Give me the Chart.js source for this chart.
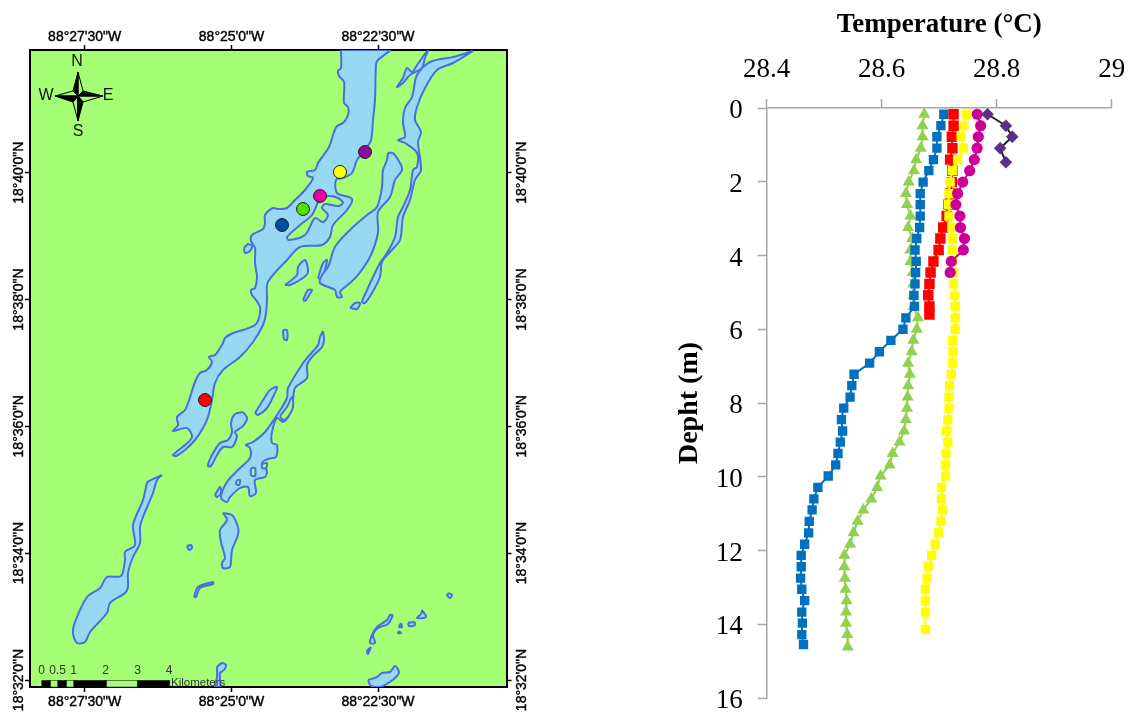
<!DOCTYPE html>
<html>
<head>
<meta charset="utf-8">
<title>Temperature profile</title>
<script src="https://cdn.jsdelivr.net/npm/chart.js@4"></script>
<style>
  html, body { margin: 0; background: #fff; overflow: hidden; }
  canvas { position: absolute; top: 0; }
  #mapChart { left: 0; }
  #profileChart { left: 640px; }
</style>
</head>
<body>
<canvas id="mapChart" width="560" height="713"></canvas>
<canvas id="profileChart" width="489" height="713"></canvas>
<script>
// profile readings
const tempTicks = [28.4, 28.6, 28.8, 29];
const depthTicks = [0, 2, 4, 6, 8, 10, 12, 14, 16];
const depthPurple = [0.17, 0.48, 0.78, 1.09, 1.47];
const tempPurple = [28.784, 28.816, 28.827, 28.806, 28.816];
const depthMagenta = [0.17, 0.48, 0.78, 1.09, 1.40, 1.70, 2.01, 2.32, 2.62, 2.93, 3.24, 3.54, 3.85, 4.16, 4.46];
const tempMagenta = [28.766, 28.772, 28.768, 28.766, 28.761, 28.753, 28.741, 28.732, 28.729, 28.736, 28.737, 28.744, 28.742, 28.721, 28.719];
const depthRed = [0.17, 0.48, 0.78, 1.09, 1.40, 1.70, 2.01, 2.32, 2.62, 2.93, 3.24, 3.54, 3.85, 4.16, 4.46, 4.77, 5.08, 5.38, 5.60];
const tempRed = [28.725, 28.725, 28.722, 28.723, 28.719, 28.723, 28.722, 28.719, 28.716, 28.713, 28.707, 28.702, 28.699, 28.690, 28.685, 28.683, 28.681, 28.683, 28.683];
const depthYellow = [0.17, 0.48, 0.78, 1.09, 1.40, 1.70, 2.01, 2.32, 2.62, 2.93, 3.24, 3.54, 3.85, 4.16, 4.46, 4.77, 5.08, 5.38, 5.69, 6.00, 6.30, 6.61, 6.92, 7.22, 7.53, 7.84, 8.14, 8.45, 8.76, 9.06, 9.37, 9.68, 9.98, 10.29, 10.60, 10.90, 11.21, 11.52, 11.83, 12.13, 12.44, 12.75, 13.05, 13.36, 13.67, 14.14];
const tempYellow = [28.747, 28.743, 28.738, 28.742, 28.732, 28.723, 28.719, 28.717, 28.716, 28.717, 28.722, 28.723, 28.723, 28.723, 28.725, 28.725, 28.727, 28.728, 28.728, 28.728, 28.723, 28.724, 28.723, 28.721, 28.718, 28.717, 28.717, 28.715, 28.713, 28.715, 28.712, 28.711, 28.711, 28.704, 28.704, 28.706, 28.703, 28.699, 28.693, 28.687, 28.681, 28.679, 28.676, 28.676, 28.676, 28.676];
const depthBlue = [0.17, 0.48, 0.78, 1.09, 1.40, 1.70, 2.01, 2.32, 2.62, 2.93, 3.24, 3.54, 3.85, 4.16, 4.46, 4.77, 5.08, 5.38, 5.69, 6.00, 6.30, 6.61, 6.92, 7.22, 7.53, 7.84, 8.14, 8.45, 8.76, 9.06, 9.37, 9.68, 9.98, 10.29, 10.60, 10.90, 11.21, 11.52, 11.83, 12.13, 12.44, 12.75, 13.05, 13.36, 13.67, 13.97, 14.28, 14.55];
const tempBlue = [28.708, 28.703, 28.696, 28.696, 28.690, 28.682, 28.672, 28.667, 28.667, 28.667, 28.666, 28.661, 28.658, 28.660, 28.659, 28.658, 28.656, 28.657, 28.642, 28.637, 28.616, 28.596, 28.579, 28.552, 28.548, 28.545, 28.534, 28.530, 28.532, 28.528, 28.524, 28.520, 28.507, 28.489, 28.482, 28.479, 28.474, 28.473, 28.466, 28.460, 28.460, 28.459, 28.461, 28.466, 28.461, 28.462, 28.461, 28.464];
const depthGreen = [0.17, 0.48, 0.78, 1.09, 1.40, 1.70, 2.01, 2.32, 2.62, 2.93, 3.24, 3.54, 3.85, 4.16, 4.46, 4.77, 5.08, 5.38, 5.69, 6.00, 6.30, 6.61, 6.92, 7.22, 7.53, 7.84, 8.14, 8.45, 8.76, 9.06, 9.37, 9.68, 9.98, 10.29, 10.60, 10.90, 11.21, 11.52, 11.83, 12.13, 12.44, 12.75, 13.05, 13.36, 13.67, 13.97, 14.28, 14.62];
const tempGreen = [28.674, 28.671, 28.671, 28.668, 28.660, 28.656, 28.647, 28.642, 28.644, 28.650, 28.646, 28.653, 28.650, 28.650, 28.654, 28.655, 28.655, 28.655, 28.663, 28.661, 28.655, 28.652, 28.646, 28.649, 28.646, 28.645, 28.644, 28.642, 28.639, 28.631, 28.619, 28.614, 28.598, 28.592, 28.582, 28.568, 28.558, 28.551, 28.545, 28.535, 28.535, 28.536, 28.537, 28.539, 28.538, 28.538, 28.540, 28.541];

// map frame ticks, digitised in sheet units (origin top left of the frame)
const lonTicks = [54.7, 201.5, 348];
const lonLabels = ["88°27'30\"W", "88°25'0\"W", "88°22'30\"W"];
const latTicks = [122.7, 249.5, 376.3, 503.1, 630];
const latLabels = ["18°40'0\"N", "18°38'0\"N", "18°36'0\"N", "18°34'0\"N", "18°32'0\"N"];

// sampling stations on the map
const stationX = [335, 310, 290, 273, 252, 175];
const stationY = [102, 122, 146, 159, 175, 350];
const stationColors = ["#8a0a9a", "#ffff00", "#e6009e", "#55dd00", "#004da8", "#ff0000"];

// water bodies
const mainLake = [[311,0],[311,18],[308,21],[309,26],[314,32],[314,53],[318,57],[318,65],[313,73],[307,76],[304,82],[299,97],[288,113],[285,120],[277,122],[278,126],[283,128],[275,140],[265,150],[257,158],[248,159],[243,158],[235,165],[235,173],[233,179],[222,185],[221,191],[225,198],[225,213],[227,227],[225,238],[221,240],[222,245],[226,250],[230,257],[229,268],[225,275],[213,280],[203,283],[195,288],[193,293],[185,305],[179,307],[182,312],[177,320],[170,323],[165,332],[160,347],[155,360],[147,367],[148,375],[143,381],[157,378],[162,387],[155,395],[143,405],[146,406],[155,400],[165,390],[173,378],[178,367],[182,350],[185,333],[193,320],[210,307],[223,292],[233,275],[236,263],[237,250],[238,232],[257,210],[270,197],[292,195],[300,187],[303,175],[317,160],[322,149],[307,143],[306,130],[313,128],[322,123],[327,110],[335,100],[341,90],[343,70],[345,50],[346,15],[348,10],[357,3],[360,0]];
const longLake = [[358,103],[363,103],[370,113],[372,120],[365,130],[360,147],[348,162],[348,183],[340,207],[328,225],[320,233],[310,242],[312,247],[307,247],[305,240],[290,233],[292,225],[298,217],[305,197],[320,180],[337,165],[347,157],[352,137],[353,120],[357,110]];
const eastChannel = [[443,1],[423,7],[400,12],[387,25],[382,47],[375,58],[373,73],[375,87],[368,90],[375,93],[387,103],[387,117],[383,120],[380,140],[373,157],[368,167],[365,187],[357,203],[350,213],[343,227],[337,240],[332,252],[335,253],[342,243],[350,227],[352,212],[360,202],[370,190],[373,167],[380,150],[385,130],[391,120],[388,92],[391,82],[385,70],[387,57],[395,38],[407,20],[423,13]];
const northArm = [[397,1],[387,15],[382,22],[377,18],[373,28],[367,37],[373,33],[380,25],[392,18],[395,8],[398,1]];
const eastIsland = [[293,281],[294,290],[292,297],[282,307],[277,315],[277,328],[265,338],[263,350],[259,365],[253,372],[247,368],[242,382],[242,393],[247,395],[246,407],[238,409],[232,413],[237,421],[235,427],[225,430],[226,443],[220,446],[218,437],[210,438],[200,447],[197,452],[191,448],[197,432],[210,418],[220,408],[220,398],[216,395],[223,392],[235,382],[247,365],[257,348],[258,338],[273,313],[277,308],[288,295],[290,287]];
const ovalLake = [[213,362],[217,368],[213,376],[205,382],[207,386],[202,397],[193,397],[187,405],[181,416],[178,416],[181,407],[190,393],[198,390],[202,382],[201,373],[205,364]];
const southLake = [[132,425],[127,430],[123,443],[113,467],[110,477],[110,493],[103,507],[98,523],[98,537],[95,543],[80,553],[77,563],[60,582],[55,592],[47,593],[43,583],[45,572],[57,547],[70,538],[77,527],[91,526],[95,510],[95,502],[105,495],[103,475],[113,450],[117,433],[119,431]];
const midLake = [[193,463],[202,465],[208,477],[208,485],[202,500],[200,517],[193,518],[192,513],[195,508],[191,492],[190,480],[197,470]];
const bottomLake = [[338,630],[347,627],[352,623],[360,622],[365,616],[369,622],[367,626],[360,632],[350,637],[341,636]];
const smallWaters = [
  [[214,198],[218,194],[222,196],[220,201],[215,203]],
  [[253,160],[262,156],[262,160],[257,163]],
  [[255,235],[267,225],[268,217],[275,210],[278,222],[273,228],[260,235]],
  [[288,228],[293,213],[297,210],[295,220],[292,229]],
  [[273,250],[278,240],[282,240],[278,247],[275,251]],
  [[320,258],[325,253],[330,253],[327,259]],
  [[253,280],[257,280],[257,290],[254,289]],
  [[225,363],[235,347],[240,340],[247,337],[243,347],[237,358],[228,365]],
  [[185,445],[190,437],[191,443],[187,447]],
  [[164,547],[168,537],[183,532],[183,534],[170,538],[166,547]],
  [[157,496],[161,495],[162,498],[159,500]],
  [[187,617],[192,613],[196,615],[194,620],[190,623],[190,637],[185,637],[187,627]],
  [[363,565],[358,574],[348,578],[343,585],[345,593],[340,593],[342,585],[347,577],[357,570],[360,565]],
  [[341,597],[338,604],[337,601]],
  [[371,573],[372,577],[369,577]],
  [[369,581],[371,583],[368,583]],
  [[378,573],[384,572],[385,575],[379,576]],
  [[392,560],[396,567],[387,568],[391,564]],
  [[419,543],[422,545],[420,548],[417,545]]
];
// land inside the water
const landBits = [
  [[288,152],[282,165],[270,175],[257,187],[259,190],[275,185],[285,168],[293,172],[298,165],[292,158],[295,154],[308,156],[313,153],[308,148],[298,146],[293,149]],
  [[221,418],[225,418],[225,426],[221,425]],
  [[232,414],[237,413],[236,418],[232,418]],
  [[207,430],[210,430],[209,435],[206,434]],
  [[250,366],[257,357],[262,347],[263,357],[258,367],[253,370]]
];

// compass rose
const roseDark = [
  [[48,22],[43,41],[48,46]],
  [[73,46],[53,41],[48,46]],
  [[48,71],[53,52],[48,46]],
  [[25,46],[43,52],[48,46]]
];
const roseLight = [
  [[48,22],[53,41],[48,46]],
  [[73,46],[53,52],[48,46]],
  [[48,71],[43,52],[48,46]],
  [[25,46],[43,41],[48,46]]
];
const roseLetters = ["N", "E", "S", "W"];
const roseLetterX = [47, 78, 48, 16];
const roseLetterY = [12, 46, 82, 46];

// scale bar
const barEdges = [11.7, 20, 28, 36, 44, 76, 107.7, 139.3];
const barLabels = ["0", "0.5", "1", "2", "3", "4"];
const barLabelX = [11.7, 27.5, 43.5, 75.5, 107.5, 139];

const water = "#97d9f3";
const shore = "#4a6de0";
const land = "#a5ff75";

const ring = pts => pts.concat([pts[0]]);
const pairs = (xs, ys) => xs.map((x, i) => ({ x: x, y: ys[i] }));

function shape(pts, fillColor, lineColor, lineWidth, bend) {
  return {
    data: ring(pts),
    showLine: true,
    fill: "shape",
    backgroundColor: fillColor,
    borderColor: lineColor,
    borderWidth: lineWidth,
    borderJoinStyle: "round",
    tension: bend || 0,
    pointRadius: 0,
    pointHoverRadius: 0
  };
}

const waterShapes = [mainLake, longLake, eastChannel, northArm, eastIsland, ovalLake, southLake, midLake, bottomLake]
  .concat(smallWaters)
  .map(p => shape(p, water, shore, 2, 0.3));

const barShapes = barEdges.slice(0, -1).map((x, i) => shape(
  [[x, 630.5], [barEdges[i + 1], 630.5], [barEdges[i + 1], 637], [x, 637]],
  i % 2 === 0 ? "#000" : land, "#000", 0.5
));

const mapDatasets = [
  {
    data: pairs(stationX, stationY),
    pointRadius: 6.5,
    pointBackgroundColor: stationColors,
    pointBorderColor: "#222",
    pointBorderWidth: 1,
    showLine: false
  }
]
  .concat(barShapes)
  .concat(roseDark.map(p => shape(p, "#000", "#000", 1)))
  .concat(roseLight.map(p => shape(p, land, "#000", 1)))
  .concat(landBits.map(p => shape(p, land, shore, 2, 0.3)))
  .concat(waterShapes);

const mapTexts = {
  id: "mapTexts",
  beforeDraw(chart) {
    const a = chart.chartArea;
    chart.ctx.fillStyle = land;
    chart.ctx.fillRect(a.left, a.top, a.width, a.height);
  },
  afterDatasetsDraw(chart) {
    const ctx = chart.ctx;
    const x = chart.scales.x;
    const y = chart.scales.y;
    ctx.save();
    ctx.textAlign = "center";
    ctx.textBaseline = "middle";
    ctx.fillStyle = "#111";
    ctx.font = "16px 'Liberation Sans'";
    roseLetters.forEach((t, i) => {
      ctx.fillText(t, x.getPixelForValue(roseLetterX[i]), y.getPixelForValue(roseLetterY[i]));
    });
    ctx.fillStyle = "#333";
    ctx.font = "12px 'Liberation Sans'";
    barLabels.forEach((t, i) => {
      ctx.fillText(t, x.getPixelForValue(barLabelX[i]), y.getPixelForValue(621));
    });
    ctx.textAlign = "left";
    ctx.font = "11.5px 'Liberation Sans'";
    ctx.fillText("Kilometers", x.getPixelForValue(141), y.getPixelForValue(632.5));
    ctx.restore();
  }
};

function mapScale(position, ticks, labels, extra) {
  return Object.assign({
    type: "linear",
    position: position,
    grid: { drawOnChartArea: false, drawTicks: true, tickLength: 5, tickWidth: 1.5, tickColor: "#000" },
    border: { display: true, color: "#000", width: 2 },
    afterBuildTicks(axis) {
      axis.ticks = ticks.map(v => ({ value: v }));
    },
    ticks: {
      autoSkip: false,
      color: "#000",
      padding: position === "top" ? -1 : 2,
      textStrokeColor: "#000",
      textStrokeWidth: 0.4,
      font: { family: "'Liberation Sans'", size: 14 },
      callback: (v, i) => labels[i]
    }
  }, extra);
}

function vertical(position, padding, width) {
  return mapScale(position, latTicks, latLabels, {
    min: 0,
    max: 637,
    reverse: true,
    afterFit(axis) { axis.width = width; },
    ticks: {
      autoSkip: false,
      color: "#000",
      minRotation: 90,
      maxRotation: 90,
      crossAlign: "center",
      padding: padding,
      textStrokeColor: "#000",
      textStrokeWidth: 0.4,
      font: { family: "'Liberation Sans'", size: 14 },
      callback: (v, i) => latLabels[i]
    }
  });
}

new Chart(document.getElementById("mapChart"), {
  type: "scatter",
  data: { datasets: mapDatasets },
  plugins: [mapTexts],
  options: {
    responsive: false,
    animation: false,
    layout: { padding: 0 },
    plugins: { legend: { display: false }, tooltip: { enabled: false } },
    scales: {
      x: mapScale("bottom", lonTicks, lonLabels, {
        min: 0, max: 476.5,
        afterFit(axis) { axis.height = 26; }
      }),
      xTop: mapScale("top", lonTicks, lonLabels, {
        min: 0, max: 476.5,
        afterFit(axis) { axis.height = 50; }
      }),
      y: vertical("left", -25, 30),
      yRight: vertical("right", -21, 53.5)
    }
  }
});

const axisGrey = "#a6a6a6";
const serif = "'Liberation Serif'";

function series(depths, temps, color, lineColor, style, radius) {
  return {
    data: pairs(temps, depths),
    showLine: true,
    borderColor: lineColor,
    borderWidth: 2,
    tension: 0,
    pointStyle: style,
    pointRadius: radius,
    pointHoverRadius: radius,
    pointBackgroundColor: color,
    pointBorderColor: style === "rectRot" ? "#333" : color,
    pointBorderWidth: style === "rectRot" ? 0.5 : 0
  };
}

// depth labels sit a little below their ticks in the original
const depthLabels = {
  id: "depthLabels",
  afterDraw(chart) {
    const ctx = chart.ctx;
    const y = chart.scales.y;
    ctx.save();
    ctx.fillStyle = "#000";
    ctx.font = "27px " + serif;
    ctx.textAlign = "right";
    ctx.textBaseline = "middle";
    depthTicks.forEach(d => {
      ctx.fillText(String(d), y.right - 24, y.getPixelForValue(d) + 3);
    });
    ctx.restore();
  }
};

new Chart(document.getElementById("profileChart"), {
  type: "scatter",
  data: {
    datasets: [
      series(depthPurple, tempPurple, "#5b2d8e", "#262626", "rectRot", 6),
      series(depthMagenta, tempMagenta, "#cc0099", "#cc0099", "circle", 5.6),
      series(depthYellow, tempYellow, "#ffff00", "#ffff00", "rect", 6.6),
      series(depthRed, tempRed, "#ff0000", "#ff0000", "rect", 7.4),
      series(depthBlue, tempBlue, "#0070c0", "#0070c0", "rect", 6.6),
      series(depthGreen, tempGreen, "#92d050", "#92d050", "triangle", 7)
    ]
  },
  plugins: [depthLabels],
  options: {
    responsive: false,
    animation: false,
    layout: { padding: { right: 17.3, bottom: 15, left: 0, top: 0 } },
    plugins: { legend: { display: false }, tooltip: { enabled: false } },
    scales: {
      x: {
        type: "linear",
        position: "top",
        min: 28.4,
        max: 29,
        afterBuildTicks(axis) {
          axis.ticks = tempTicks.map(v => ({ value: v }));
        },
        afterFit(axis) {
          axis.height = 108;
          axis.paddingLeft = 0;
          axis.paddingRight = 0;
        },
        grid: { drawOnChartArea: false, tickLength: 9, tickColor: axisGrey, tickWidth: 1.5 },
        border: { color: axisGrey, width: 1.5 },
        title: {
          display: true,
          text: "Temperature (°C)",
          color: "#000",
          padding: { top: 9, bottom: 0 },
          font: { family: serif, size: 27, weight: "bold" }
        },
        ticks: {
          color: "#000",
          padding: 13,
          maxRotation: 0,
          font: { family: serif, size: 27 },
          callback: v => String(v)
        }
      },
      y: {
        type: "linear",
        reverse: true,
        min: 0,
        max: 16,
        afterBuildTicks(axis) {
          axis.ticks = depthTicks.map(v => ({ value: v }));
        },
        afterFit(axis) {
          axis.width = 126.7;
          axis.paddingTop = 0;
          axis.paddingBottom = 0;
        },
        grid: { drawOnChartArea: false, tickLength: 9, tickColor: axisGrey, tickWidth: 1.5 },
        border: { color: axisGrey, width: 1.5 },
        title: {
          display: true,
          text: "Depht (m)",
          color: "#000",
          padding: { top: 33, bottom: 0 },
          font: { family: serif, size: 28, weight: "bold" }
        },
        ticks: { display: false }
      }
    }
  }
});
</script>
</body>
</html>
